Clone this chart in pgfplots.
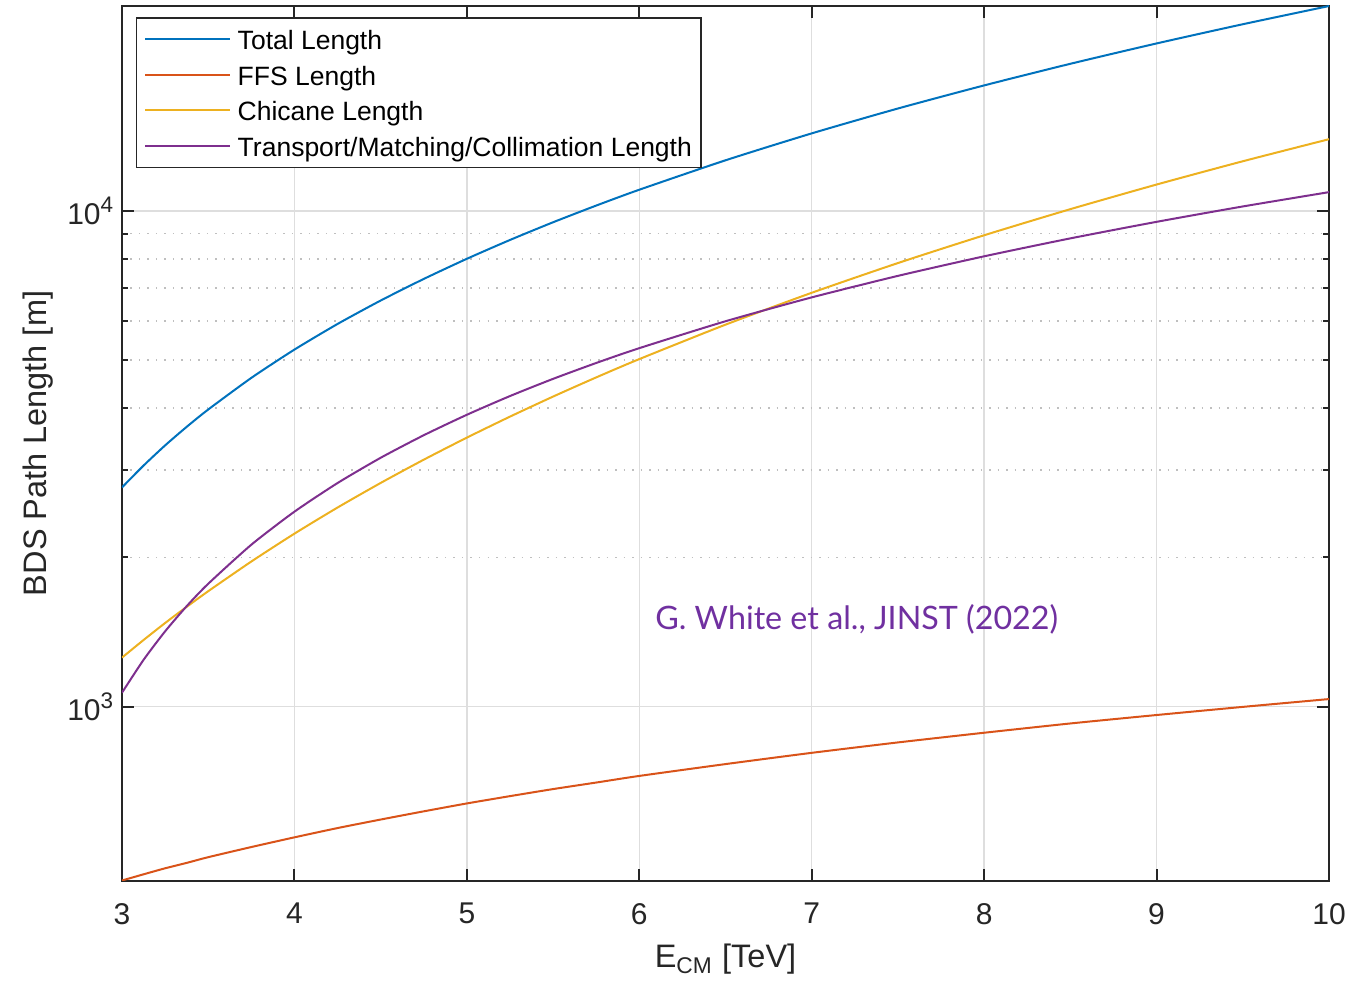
\documentclass[border=0pt]{standalone}
\usepackage{fontspec}
\setmainfont{Liberation Sans}
\newfontfamily\notefont{Lato}
\usepackage{pgfplots}
\usepackage{pgfplotstable}
\pgfplotsset{compat=1.18}

\definecolor{mblue}{rgb}{0,0.447,0.741}
\definecolor{morange}{rgb}{0.85,0.325,0.098}
\definecolor{myellow}{rgb}{0.929,0.694,0.125}
\definecolor{mpurple}{rgb}{0.494,0.184,0.556}
\definecolor{axgray}{rgb}{0.15,0.15,0.15}
\definecolor{notepurple}{HTML}{7030A0}

\newcommand{\tickexp}[1]{\raisebox{0.42em}{\fontsize{9}{9}\selectfont #1}}

% E [TeV], lengths [m]
\pgfplotstableread{
E      total  ffs   chicane transport
3.000  2769   446   1256    1067
3.125  3065   459   1363    1243
3.250  3366   472   1475    1419
3.375  3669   484   1590    1595
3.500  3977   497   1710    1770
3.750  4606   521   1963    2122
4.000  5253   545   2234    2474
4.250  5917   569   2522    2826
4.500  6597   592   2827    3178
4.750  7294   615   3150    3529
5.000  8009   638   3490    3881
5.250  8741   660   3848    4233
5.500  9490   682   4223    4585
5.750  10255  703   4616    4936
6.000  11039  725   5026    5288
6.500  12656  766   5898    5992
7.000  14342  807   6840    6695
7.500  16099  847   7853    7399
8.000  17922  886   8934    8102
8.500  19817  925   10086   8806
9.000  21779  962   11308   9509
9.500  23811  999   12599   10213
10.000 25912  1036  13960   10916
}\bds

\begin{document}
\begin{tikzpicture}
\begin{axis}[
    scale only axis,
    width=482.8pt, height=350pt,
    ymode=log,
    xmin=3, xmax=10,
    ymin=445, ymax=25920,
    xtick={3,4,...,10},
    ytick={1000,10000},
    yticklabels={10\tickexp{3},10\tickexp{4}},
    /pgf/number format/assume math mode=true,
    tick label style={font=\fontsize{12}{14}\selectfont, text=axgray},
    xticklabel style={yshift=-5.4pt},
    xlabel={E\textsubscript{CM} [TeV]},
    ylabel={BDS Path Length [m]},
    every axis x label/.style={at={(axis description cs:0.5,-0.099)}, anchor=base,
        font=\fontsize{13}{15}\selectfont, text=axgray},
    every axis y label/.style={at={(axis description cs:-0.0696,0.5)}, rotate=90, anchor=center,
        font=\fontsize{13}{15}\selectfont, text=axgray},
    axis line style={axgray, line width=0.8pt},
    major tick length=4.8pt,
    minor tick length=2.4pt,
    every tick/.style={axgray, line width=0.8pt},
    grid=both,
    major grid style={black!13, line width=0.6pt},
    minor grid style={black!25, line width=0.6pt, dash pattern=on 0.6pt off 2.8pt},
    xminorgrids=false,
    legend cell align=left,
    legend image code/.code={\draw[#1] (0pt,0pt) -- (34pt,0pt); \path (36pt,0pt);},
    legend style={
        at={(0.0116,0.9874)}, anchor=north west,
        draw=axgray, line width=0.6pt,
        font=\fontsize{10.6}{12}\selectfont,
        row sep=0pt, inner xsep=3pt, inner ysep=1.5pt,
        nodes={inner sep=0.6pt, text height=10.6pt, text depth=2.4pt},
    },
]
\addplot[mblue, line width=0.8pt, smooth, tension=0.4] table[x=E, y=total] {\bds};
\addlegendentry{Total Length}
\addplot[morange, line width=0.8pt, smooth, tension=0.4] table[x=E, y=ffs] {\bds};
\addlegendentry{FFS Length}
\addplot[myellow, line width=0.8pt, smooth, tension=0.4] table[x=E, y=chicane] {\bds};
\addlegendentry{Chicane Length}
\addplot[mpurple, line width=0.8pt, smooth, tension=0.4] table[x=E, y=transport] {\bds};
\addlegendentry{Transport/Matching/Collimation Length}
\node[anchor=west, text=notepurple, font=\notefont\fontsize{12.9}{15}\selectfont, inner sep=0pt]
    at (axis cs:6.09,1500) {G. White et al., JINST (2022)};
\end{axis}
\pgfresetboundingbox
\path[use as bounding box] ([xshift=-48.8pt,yshift=-41.2pt]current axis.south west)
    rectangle ([xshift=9.6pt,yshift=2.4pt]current axis.north east);
\end{tikzpicture}
\end{document}
